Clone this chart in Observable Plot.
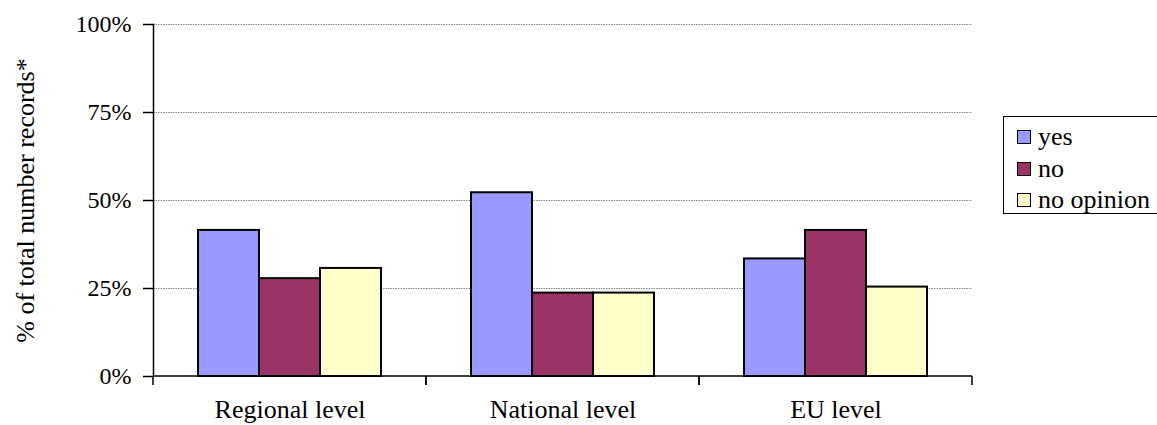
<!DOCTYPE html>
<html><head><meta charset="utf-8">
<script src="https://cdn.jsdelivr.net/npm/d3@7"></script>
<script src="https://cdn.jsdelivr.net/npm/@observablehq/plot@0.6"></script>
<style>
body{margin:0;background:#fff;}
#wrap{position:relative;width:1157px;height:425px;overflow:hidden;background:#fff;}
#legend{position:absolute;left:1003px;top:116px;width:170px;height:98px;border:1.5px solid #000;box-sizing:border-box;background:#fff;}
.item{position:absolute;left:13px;height:30px;display:flex;align-items:center;font-family:"Liberation Serif","Times New Roman",serif;font-size:26px;line-height:30px;color:#000;white-space:nowrap;}
.sw{display:inline-block;width:14px;height:14px;border:1.5px solid #000;margin-right:7px;box-sizing:border-box;}
</style></head><body><div id="wrap"></div>
<script>
const categories = ["Regional level", "National level", "EU level"];
const series = ["yes", "no", "no opinion"];
const yesValues = [41.5, 52.2, 33.4];
const noValues = [27.8, 23.7, 41.5];
const noOpinionValues = [30.7, 23.7, 25.4];
const seriesColors = ["#9999FF", "#993366", "#FFFFCC"];
const yTicks = [0, 25, 50, 75, 100];
const yLabel = "% of total number records*";

const valuesBySeries = [yesValues, noValues, noOpinionValues];
const data = [];
categories.forEach((c, i) => series.forEach((s, j) => data.push({category: c, series: s, value: valuesBySeries[j][i]})));

function baseDecor(index, scales) {
  const [x0, x1] = scales.x.range();
  const y0 = scales.y(0);
  const g = d3.create("svg:g").attr("stroke", "#000").attr("stroke-width", 1.5).attr("fill", "none");
  g.append("line").attr("x1", x0).attr("x2", x1).attr("y1", y0).attr("y2", y0);
  for (const xv of [x0, x1]) g.append("line").attr("x1", xv).attr("x2", xv).attr("y1", y0).attr("y2", y0 + 9);
  return g.node();
}

const chart = Plot.plot({
  width: 1157,
  height: 425,
  marginLeft: 153,
  marginRight: 185,
  marginTop: 24,
  marginBottom: 49,
  style: {fontFamily: "'Liberation Serif', 'Times New Roman', serif", fontSize: "24px", color: "#000", background: "transparent", overflow: "visible"},
  fx: {domain: categories, padding: 0, axis: null, label: null},
  x: {domain: series, paddingInner: 0, paddingOuter: 0.73, axis: null},
  y: {domain: [0, 100], axis: null},
  color: {domain: series, range: seriesColors},
  marks: [
    Plot.gridY(yTicks.filter(d => d > 0), {stroke: "#888", strokeOpacity: 1, strokeWidth: 1, strokeDasharray: "1.5,1"}),
    Plot.barY(data, {fx: "category", x: "series", y: "value", fill: "series", stroke: "#000", strokeWidth: 2, inset: 0}),
    baseDecor,
    Plot.frame({anchor: "left", facetAnchor: "left", stroke: "#000", strokeWidth: 1.5}),
    Plot.axisY(yTicks, {anchor: "left", tickSize: 10, tickPadding: 12, tickFormat: d => d + "%", fontSize: 24, strokeWidth: 1.5, label: null}),
    Plot.axisY({anchor: "left", ticks: [], tickSize: 0, label: yLabel, labelAnchor: "center", labelArrow: "none", labelOffset: 138, fontSize: 26}),
    Plot.axisFx({anchor: "bottom", tickSize: 0, tickPadding: 23, label: null, fontSize: 26})
  ]
});

const wrap = document.getElementById("wrap");
wrap.appendChild(chart);

const legend = document.createElement("div");
legend.id = "legend";
series.forEach((s, j) => {
  const item = document.createElement("div");
  item.className = "item";
  item.style.top = (5 + j * 31.5) + "px";
  const sw = document.createElement("span");
  sw.className = "sw";
  sw.style.background = seriesColors[j];
  const t = document.createElement("span");
  t.textContent = s;
  item.appendChild(sw);
  item.appendChild(t);
  legend.appendChild(item);
});
wrap.appendChild(legend);
</script>
</body></html>
